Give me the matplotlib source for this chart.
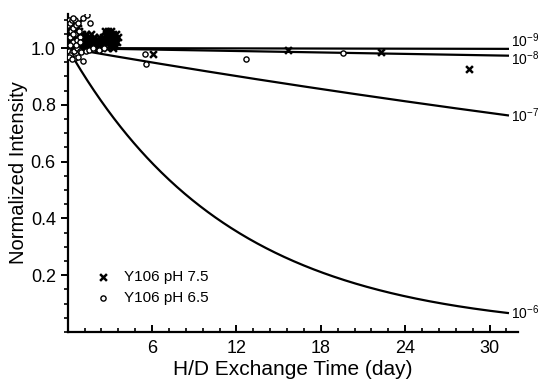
import numpy as np
import matplotlib
matplotlib.use("Agg")
import matplotlib.pyplot as plt
from matplotlib.ticker import MultipleLocator

plt.rcParams['font.family'] = ['Liberation Sans', 'DejaVu Sans']
plt.rcParams['mathtext.fontset'] = 'custom'
plt.rcParams['mathtext.rm'] = 'Liberation Sans'
plt.rcParams['mathtext.it'] = 'Liberation Sans'
plt.rcParams['mathtext.default'] = 'regular'

# rate constants (s^-1) for the model curves
rates = [1e-9, 1e-8, 1e-7, 1e-6]
rate_labels = ['10$^{-9}$', '10$^{-8}$', '10$^{-7}$', '10$^{-6}$']
label_shift = [0.03, -0.01, 0.0, 0.0]

# Y106 pH 7.5 (x markers), time in days
t_75 = [0.05, 0.1, 0.15, 0.2, 0.25, 0.3, 0.35, 0.4, 0.45, 0.5, 0.55, 0.6,
        0.65, 0.7, 0.75, 0.8, 0.85, 0.9, 0.95, 1.0, 1.05, 1.1, 1.15, 1.2,
        1.25, 1.3, 1.35, 1.4, 1.45, 1.5, 1.55, 1.6, 1.65, 1.7, 1.75, 1.8,
        1.85, 1.9, 1.95, 2.0, 2.05, 2.1, 2.15, 2.2, 2.25, 2.3, 2.35, 2.4,
        2.45, 2.5, 2.55, 2.6, 2.65, 2.7, 2.75, 2.8, 2.85, 2.9, 2.95, 3.0,
        3.05, 3.1, 3.15, 3.2, 3.25, 3.3, 3.35, 3.4, 3.45, 3.5, 3.55,
        0.1, 0.2, 0.3, 0.4, 0.5, 0.6, 0.7, 0.8, 0.9, 1.0, 1.2, 1.4, 1.6,
        1.8, 2.0, 2.2, 2.4, 2.6, 2.8, 3.0, 3.2, 3.4,
        0.15, 0.35, 0.55, 0.75, 0.2, 0.45, 0.65,
        6.05, 15.7, 22.3, 28.5]
y_75 = [1.02, 1.05, 1.08, 1.03, 1.06, 1.01, 1.04, 1.07, 1.02, 1.05, 1.03, 1.06,
        1.01, 1.04, 1.02, 1.06, 1.03, 1.01, 1.04, 1.02, 1.05, 1.03, 1.01, 1.04,
        1.02, 1.05, 1.01, 1.03, 1.02, 1.04, 1.01, 1.03, 1.05, 1.02, 1.01, 1.03,
        1.02, 1.04, 1.01, 1.03, 1.02, 1.01, 1.03, 1.02, 1.04, 1.01, 1.02, 1.03,
        1.01, 1.02, 1.04, 1.03, 1.06, 1.05, 1.02, 1.04, 1.06, 1.03, 1.05, 1.02,
        1.04, 1.06, 1.03, 1.05, 1.02, 1.04, 1.01, 1.03, 1.05, 1.02, 1.04,
        1.01, 1.0, 1.03, 1.01, 1.0, 1.02, 1.0, 1.01, 1.03, 1.0, 1.02, 1.0,
        1.01, 1.0, 1.01, 1.0, 1.01, 1.02, 1.0, 1.01, 1.0, 1.02,
        1.09, 1.07, 1.08, 1.09, 1.1, 1.06, 1.07,
        0.978, 0.993, 0.987, 0.928]

# Y106 pH 6.5 (open circles)
t_65 = [0.05, 0.1, 0.15, 0.2, 0.25, 0.3, 0.35, 0.4, 0.5, 0.55, 0.6, 0.7,
        0.75, 0.8, 0.9, 1.1, 1.37, 1.6, 0.4, 0.12, 0.3, 0.45, 0.65,
        0.85, 0.95, 0.17, 0.5, 0.75, 1.1, 1.3, 1.5, 1.8, 2.2, 2.6, 0.62,
        0.2, 0.9, 0.35, 0.08, 0.28, 5.5, 5.55, 12.7, 19.6]
y_65 = [1.08, 1.1, 1.04, 1.09, 1.06, 1.1, 1.02, 1.07, 1.1, 1.05, 1.08, 1.03,
        1.09, 1.06, 1.04, 1.105, 1.116, 1.09, 1.105, 0.99, 0.985, 0.99,
        1.0, 0.99, 0.985, 0.975, 0.964, 0.968, 0.954, 0.99, 0.995, 1.0, 0.995,
        1.0, 1.01, 1.01, 1.02, 1.05, 0.97, 0.96, 0.979, 0.943, 0.961, 0.981]

fig = plt.figure(figsize=(5.41, 3.79), dpi=100)
ax = fig.add_axes([0.125, 0.124, 0.832, 0.839])

t = np.linspace(0, 31.3, 400)
for k, lab, dy in zip(rates, rate_labels, label_shift):
    y = np.exp(-k * 86400 * t)
    ax.plot(t, y, color='black', lw=1.6, zorder=2)
    ax.text(31.5, y[-1] + dy, lab, fontsize=10, va='center', ha='left',
            clip_on=False)

ax.scatter(t_75, y_75, marker='x', s=24, color='black', linewidths=1.8,
           zorder=3, label='Y106 pH 7.5')
ax.scatter(t_65, y_65, marker='o', s=14, facecolors='white',
           edgecolors='black', linewidths=1.0, zorder=3, label='Y106 pH 6.5')

ax.set_xlim(0, 32)
ax.set_ylim(0, 1.12)
ax.xaxis.set_minor_locator(MultipleLocator(1.2))
ax.yaxis.set_minor_locator(MultipleLocator(0.05))
ax.set_xticks([6, 12, 18, 24, 30])
ax.set_yticks([0.2, 0.4, 0.6, 0.8, 1.0])

for s in ['top', 'right']:
    ax.spines[s].set_visible(False)
for s in ['left', 'bottom']:
    ax.spines[s].set_linewidth(1.6)

ax.tick_params(axis='x', direction='in', length=5, width=1.4, labelsize=13, pad=6)
ax.tick_params(axis='x', which='minor', direction='in', length=3, width=1.2)
ax.tick_params(axis='y', direction='out', length=5, width=1.4, labelsize=13)
ax.tick_params(axis='y', which='minor', direction='out', length=3, width=1.2)

ax.set_xlabel('H/D Exchange Time (day)', fontsize=15, labelpad=2)
ax.set_ylabel('Normalized Intensity', fontsize=14.5, labelpad=2)

ax.legend(loc='lower left', bbox_to_anchor=(0.02, 0.05), frameon=False,
          fontsize=11, handletextpad=0.4, labelspacing=0.5, borderpad=0.2)

fig.savefig('out.png', dpi=100)
